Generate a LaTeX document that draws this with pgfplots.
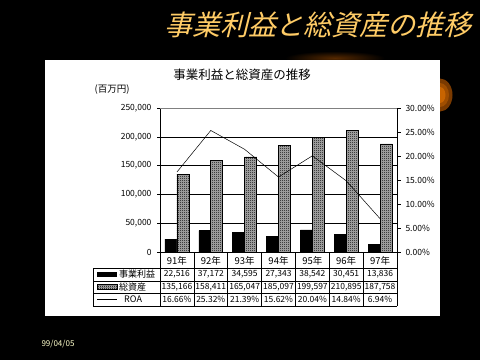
\documentclass[border=0pt]{standalone}
\usepackage{pgfplots}
\pgfplotsset{compat=1.18}
\usepackage{fontspec}
\usetikzlibrary{patterns}
\setmainfont{Noto Sans CJK JP}
\newfontfamily\jp{Noto Sans CJK JP}
\newfontfamily\jpit[FakeSlant=0.25]{Noto Sans CJK JP}
\definecolor{titleor}{HTML}{FFCC66}
\definecolor{datecol}{HTML}{FFFFCC}
\definecolor{orA}{HTML}{7A3A00}
\definecolor{orB}{HTML}{A04E00}
\definecolor{orC}{HTML}{C86400}
\pgfdeclarepatternformonly{checker}{\pgfpointorigin}{\pgfpoint{2pt}{2pt}}{\pgfpoint{2pt}{2pt}}{%
  \pgfpathrectangle{\pgfpointorigin}{\pgfpoint{1pt}{1pt}}%
  \pgfpathrectangle{\pgfpoint{1pt}{1pt}}{\pgfpoint{1pt}{1pt}}%
  \pgfusepath{fill}}
\begin{document}
\begin{tikzpicture}
\begin{scope}[x=1pt,y=1pt]
% background
\fill[black] (0,0) rectangle (480,360);
\shade[inner color=orA!70!black, outer color=black] (335,302) ellipse (50 and 7);
\fill[orA] (440,265) ellipse (12.5 and 16.5);
\fill[orB] (440,265) ellipse (9 and 12);
\fill[orC] (440,265) ellipse (5.5 and 8);
% white panel
\fill[white] (45,44) rectangle (440,300);
% slide title
\node[text=titleor, font=\jpit\fontsize{28}{30}\selectfont, inner sep=0pt] at (318,335) {事業利益と総資産の推移};
% date
\node[text=datecol, font=\jp\fontsize{8}{9}\selectfont, inner sep=0pt] at (58,16) {99/04/05};
% chart title
\node[font=\jp\fontsize{12.5}{14}\selectfont, inner sep=0pt] at (242,285) {事業利益と総資産の推移};
\node[font=\jp\fontsize{9.5}{11}\selectfont, inner sep=0pt] at (112,270) {(百万円)};
\end{scope}

\begin{axis}[
  at={(160pt,108pt)}, anchor=south west,
  scale only axis, width=237pt, height=144pt,
  xmin=-0.5, xmax=6.5, ymin=0, ymax=250000,
  axis x line*=bottom, axis y line*=left,
  axis line style={black, line width=0.6pt},
  xtick=\empty,
  ytick={0,50000,...,250000},
  ymajorgrids, grid style={black, line width=0.6pt},
  tick align=outside, major tick length=3pt,
  ytick style={black, line width=0.6pt},
  scaled y ticks=false,
  yticklabel={\pgfmathprintnumber[fixed,precision=0,1000 sep={,},assume math mode=true]{\tick}},
  yticklabel style={font=\jp\fontsize{8.5}{10}\selectfont, xshift=-2pt},
  clip=false,
]
\addplot[ybar, bar width=12pt, bar shift=-6pt, fill=black, draw=black]
  coordinates {(0,22516) (1,37172) (2,34595) (3,27343) (4,38542) (5,30451) (6,13836)};
\addplot[ybar, bar width=12pt, bar shift=6pt, draw=black, line width=0.6pt, fill=black!30, postaction={pattern=checker}]
  coordinates {(0,135166) (1,158411) (2,165047) (3,185097) (4,199597) (5,210895) (6,187758)};
\end{axis}

\begin{axis}[
  at={(160pt,108pt)}, anchor=south west,
  scale only axis, width=237pt, height=144pt,
  xmin=-0.5, xmax=6.5, ymin=0, ymax=30,
  axis x line=none, axis y line*=right,
  axis line style={black, line width=0.6pt},
  ytick={0,5,...,30},
  tick align=outside, major tick length=4pt,
  ytick style={black, line width=0.6pt},
  yticklabel={\pgfmathprintnumber[fixed,fixed zerofill,precision=2,assume math mode=true]{\tick}\%},
  yticklabel style={font=\jp\fontsize{8.5}{10}\selectfont, xshift=1pt},
]
\addplot[black, line width=0.5pt, mark=none]
  coordinates {(0,16.66) (1,25.32) (2,21.39) (3,15.62) (4,20.04) (5,14.84) (6,6.94)};
\end{axis}

\begin{scope}[x=1pt,y=1pt]
% gray top border
\draw[gray, line width=0.6pt] (160,252) -- (397,252);
% data table
\def\cw{33.857}
\foreach \k in {0,...,7} {\draw[black, line width=0.6pt] ({160+\k*\cw},108) -- ({160+\k*\cw},54);}
\draw[black, line width=0.6pt] (93,92) -- (93,54);
\foreach \yy in {92,79,67,54} {\draw[black, line width=0.6pt] (93,\yy) -- (397,\yy);}
\foreach \lab [count=\i from 0] in {91年,92年,93年,94年,95年,96年,97年}
  {\node[font=\jp\fontsize{9.5}{10}\selectfont, inner sep=0pt] at ({160+(\i+0.5)*\cw},99.5) {\lab};}
\foreach \v [count=\i from 0] in {{22,516},{37,172},{34,595},{27,343},{38,542},{30,451},{13,836}}
  {\node[font=\jp\fontsize{8.5}{9}\selectfont, inner sep=0pt] at ({160+(\i+0.5)*\cw},85.5) {\v};}
\foreach \v [count=\i from 0] in {{135,166},{158,411},{165,047},{185,097},{199,597},{210,895},{187,758}}
  {\node[font=\jp\fontsize{8.5}{9}\selectfont, inner sep=0pt] at ({160+(\i+0.5)*\cw},73) {\v};}
\foreach \v [count=\i from 0] in {16.66\%,25.32\%,21.39\%,15.62\%,20.04\%,14.84\%,6.94\%}
  {\node[font=\jp\fontsize{8.5}{9}\selectfont, inner sep=0pt] at ({160+(\i+0.5)*\cw},60.5) {\v};}
% legend column
\fill[black] (97,83) rectangle (117,88);
\fill[black!30] (97,70.5) rectangle (117,75.5);
\fill[pattern=checker] (97,70.5) rectangle (117,75.5);
\draw[black, line width=0.6pt] (97,70.5) rectangle (117,75.5);
\draw[black, line width=0.6pt] (97,60.5) -- (117,60.5);
\node[font=\jp\fontsize{9}{9}\selectfont, inner sep=0pt, anchor=west] at (119,85.5) {事業利益};
\node[font=\jp\fontsize{9}{9}\selectfont, inner sep=0pt, anchor=west] at (119,73) {総資産};
\node[font=\jp\fontsize{9}{9}\selectfont, inner sep=0pt, anchor=west] at (124,60.5) {ROA};
\end{scope}
\end{tikzpicture}
\end{document}
